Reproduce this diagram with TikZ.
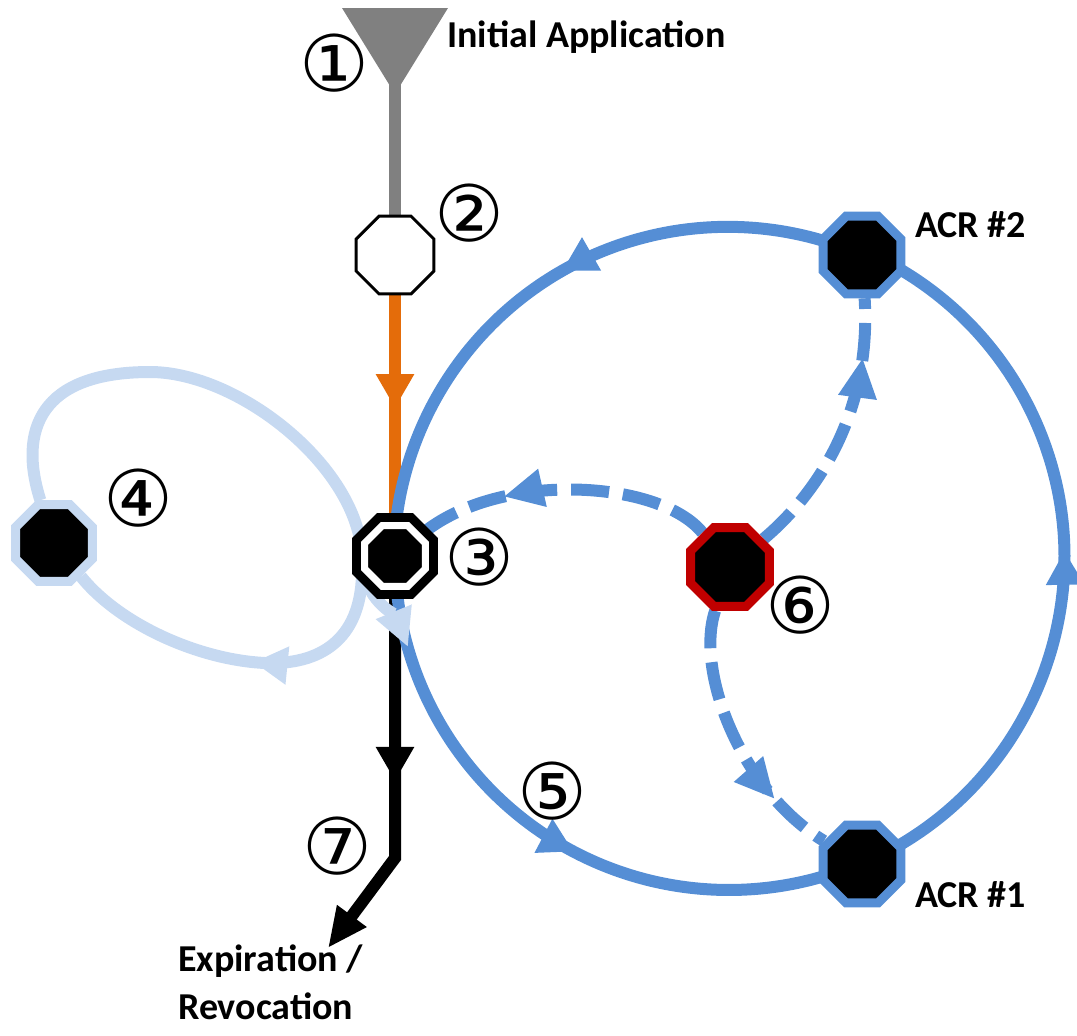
\documentclass[tikz,border=0pt]{standalone}
\usepackage{fontspec}
\usepackage{tikz}
\usetikzlibrary{shapes.geometric, arrows.meta, decorations.markings, backgrounds}
\newfontfamily\lblfont{Carlito}
\newfontfamily\numfont{DejaVu Sans}
\definecolor{cBlue}{RGB}{85,142,213}
\definecolor{cLight}{RGB}{198,217,241}
\definecolor{cOrange}{RGB}{228,108,10}
\definecolor{cRed}{RGB}{192,0,0}
\definecolor{cGrey}{RGB}{128,128,128}
\tikzset{
	octnode/.style  ={regular polygon, regular polygon sides=8, inner sep=0pt},
	startnode/.style={octnode, minimum size=84pt, draw=black, fill=white, line width=3pt},
	holdnode/.style ={octnode, minimum size=66pt, draw=black, double=white, double distance=7pt, line width=9pt, fill=black},
	acrnode/.style  ={octnode, minimum size=84pt, draw=cBlue, fill=black, line width=9pt},
	tmpnode/.style  ={octnode, minimum size=83pt, draw=cLight, fill=black, line width=9pt},
	revnode/.style  ={octnode, minimum size=85pt, draw=cRed, fill=black, line width=9pt},
	funnel/.style   ={isosceles triangle, isosceles triangle stretches, shape border rotate=270, minimum width=106pt, minimum height=86pt, inner sep=0pt, outer sep=0pt, fill=cGrey},
	lbl/.style      ={font=\lblfont\bfseries\fontsize{38}{48}\selectfont, inner sep=0pt, align=left},
	num/.style      ={font=\numfont\fontsize{78}{78}\selectfont, inner sep=0pt},
	wire/.style     ={line width=12pt},
	dashline/.style ={wire, cBlue, dash pattern=on 38pt off 14pt},
	midarrow/.style ={postaction={decorate}, decoration={markings, mark=at position #1 with {\arrow{>}}}},
	midarrow/.default=0.5,
}
\begin{document}
\begin{tikzpicture}[x=1pt, y=-1pt, >={Triangle[length=34pt, width=36pt]}]
	\useasboundingbox (0,0) rectangle (1077,1036);
	% states
	\node[funnel, anchor=apex] (n1) at (395,94) {};
	\node[startnode] (n2) at (395,255) {};
	\node[holdnode] (n3) at (395,556) {};
	\node[tmpnode] (n4) at (54,543) {};
	\node[revnode] (n6) at (730,567) {};
	\node[acrnode] (acr2) at (862,255) {};
	\node[acrnode] (acr1) at (862,864) {};
	\coordinate (bend) at (395,858);
	\coordinate (exitend) at (328,948);
	\coordinate (lbsplit) at (362,575);
	\coordinate (lbtip) at (408,647);
	% labels
	\node[lbl, anchor=base west] (lblinit) at (447,47) {Initial Application};
	\node[lbl, anchor=base west] (lblacr2) at (915,237) {ACR \#2};
	\node[lbl, anchor=base west] (lblacr1) at (915,907) {ACR \#1};
	\node[lbl, anchor=north west] (lblexit) at (178,945) {Expiration /\\Revocation};
	\node[num] (num1) at (334,63) {①};
	\node[num] (num2) at (469,213) {②};
	\node[num] (num3) at (479,557) {③};
	\node[num] (num4) at (138,498) {④};
	\node[num] (num5) at (552,791) {⑤};
	\node[num] (num6) at (800,605) {⑥};
	\node[num] (num7) at (337,846) {⑦};
	\begin{scope}[on background layer]
		\draw[wire, cGrey] ([yshift=16pt]n1.apex) -- (n2);
		\draw[wire, cOrange, midarrow] (n2) -- (n3);
		\draw[wire, black, midarrow=190pt, -{Triangle[length=40pt, width=34pt]}] (n3) -- (bend) -- (exitend);
		% renewal cycle
		\draw[wire, cBlue, midarrow=0.55] (n3) arc[start angle=180, end angle=66.8, radius=334];
		\draw[wire, cBlue, midarrow=0.51] (acr1) arc[start angle=66.8, end angle=-66.3, radius=334];
		\draw[wire, cBlue, midarrow=0.47] (acr2) arc[start angle=-66.3, end angle=-180, radius=334];
		% revocation requests
		\draw[dashline, midarrow=0.7, >={Triangle[length=40pt, width=36pt]}] (n6) .. controls (660,480) and (500,470) .. (n3);
		\draw[dashline, midarrow=0.78, >={Triangle[length=40pt, width=36pt]}] (n6) .. controls (810,500) and (872,420) .. (acr2);
		\draw[dashline, midarrow=0.76, >={Triangle[length=40pt, width=36pt]}] (n6) .. controls (695,670) and (740,790) .. (acr1);
		% temporary loop
		\draw[wire, cLight, -{Triangle[length=38pt, width=36pt]}] (n4) .. controls (18,430) and (40,372) .. (150,372) .. controls (240,372) and (362,470) .. (362,560) .. controls (364,600) and (395,615) .. (lbtip);
		\draw[wire, cLight, midarrow=0.45] (lbsplit) .. controls (360,640) and (320,665) .. (265,663) .. controls (200,660) and (120,625) .. (n4);
	\end{scope}
\end{tikzpicture}
\end{document}
